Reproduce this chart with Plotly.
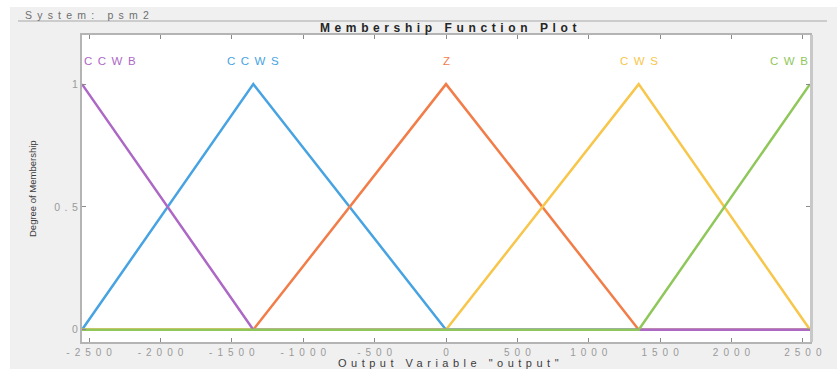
import plotly.graph_objects as go

# ---- data ----
mf_names = ["CCWB", "CCWS", "Z", "CWS", "CWB"]
ccwb_x = [-2550, -1350, 2550]
ccwb_y = [1, 0, 0]
ccws_x = [-2550, -1350, 0, 2550]
ccws_y = [0, 1, 0, 0]
z_x = [-2550, -1350, 0, 1350, 2550]
z_y = [0, 0, 1, 0, 0]
cws_x = [-2550, 0, 1350, 2550]
cws_y = [0, 0, 1, 0]
cwb_x = [-2550, 1350, 2550]
cwb_y = [0, 0, 1]
label_x = [-2550, -1350, 0, 1350, 2550]
x_tickvals = [-2500, -2000, -1500, -1000, -500, 0, 500, 1000, 1500, 2000, 2500]
y_tickvals = [0, 0.5, 1]
y_ticklabels = ["0", "0.5", "1"]

colors = {"CCWB": "#ad68c6", "CCWS": "#47a3e2", "Z": "#f27d48",
          "CWS": "#f7c64a", "CWB": "#90c75a"}

W, H = 837, 369
L, R, T, B = 82, 810, 35, 342
FONT = "Liberation Sans, Arial, sans-serif"


def sp(t, px):
    t = str(t)
    if len(t) <= 1:
        return t
    return f"<span style='letter-spacing:{px}px'>{t[:-1]}</span>{t[-1]}"


def pxx(x):
    return (x - L) / (R - L)


def pxy(y):
    return (B - y) / (B - T)


fig = go.Figure()
order = [("CCWS", ccws_x, ccws_y), ("Z", z_x, z_y), ("CWS", cws_x, cws_y),
         ("CCWB", ccwb_x, ccwb_y), ("CWB", cwb_x, cwb_y)]
for name, xs, ys in order:
    fig.add_trace(go.Scatter(x=xs, y=ys, mode="lines", name=name,
                             line=dict(color=colors[name], width=2.5),
                             showlegend=False, hoverinfo="skip"))

annotations = []
anchors = ["left", "center", "center", "center", "right"]
for name, lx, anc in zip(mf_names, label_x, anchors):
    annotations.append(dict(x=lx, y=1.093, xref="x", yref="y", text=sp(name, 5.5),
                            showarrow=False, xanchor=anc, yanchor="middle",
                            font=dict(family=FONT, size=11.5, color=colors[name])))

annotations.append(dict(x=pxx(448), y=pxy(28), xref="paper", yref="paper",
                        text="<b>" + sp("Membership Function Plot", 4.6) + "</b>",
                        showarrow=False, xanchor="center", yanchor="middle",
                        font=dict(family=FONT, size=12, color="#262626")))
annotations.append(dict(x=pxx(23), y=pxy(15), xref="paper", yref="paper",
                        text=sp("System: psm2", 5.2), showarrow=False,
                        xanchor="left", yanchor="middle",
                        font=dict(family=FONT, size=10.5, color="#6e6e6e")))
annotations.append(dict(x=pxx(448), y=pxy(363), xref="paper", yref="paper",
                        text=sp('Output Variable "output"', 4.5), showarrow=False,
                        xanchor="center", yanchor="middle",
                        font=dict(family=FONT, size=11, color="#3c3c3c")))
annotations.append(dict(x=pxx(32), y=pxy(188), xref="paper", yref="paper",
                        text="Degree of Membership", showarrow=False, textangle=-90,
                        xanchor="center", yanchor="middle",
                        font=dict(family=FONT, size=9.5, color="#3c3c3c")))

shapes = [
    # white strips outside the grey panel
    dict(type="rect", xref="paper", yref="paper", x0=pxx(0), x1=pxx(W), y0=pxy(7), y1=pxy(0),
         fillcolor="white", line=dict(width=0), layer="below"),
    dict(type="rect", xref="paper", yref="paper", x0=pxx(0), x1=pxx(10), y0=pxy(H), y1=pxy(0),
         fillcolor="white", line=dict(width=0), layer="below"),
    # separator line
    dict(type="line", xref="paper", yref="paper", x0=pxx(18), x1=pxx(827), y0=pxy(21), y1=pxy(21),
         line=dict(color="#a8a8a8", width=1)),
    # right edge shadow
    dict(type="rect", xref="paper", yref="paper", x0=pxx(810), x1=pxx(813), y0=pxy(B), y1=pxy(T),
         fillcolor="#c8c8c8", line=dict(width=0)),
]

fig.update_layout(
    width=W, height=H,
    margin=dict(l=L, r=W - R, t=T, b=H - B, pad=0),
    paper_bgcolor="#f0f0f0", plot_bgcolor="white",
    annotations=annotations, shapes=shapes,
    xaxis=dict(range=[-2550, 2550], tickvals=x_tickvals,
               ticktext=[sp(v, 5) for v in x_tickvals],
               ticks="inside", ticklen=4, tickcolor="#8a8a8a",
               showline=True, linecolor="#b4b4b4", linewidth=2, mirror="ticks",
               showgrid=False, zeroline=False,
               tickfont=dict(family=FONT, size=10, color="#9a9a9a")),
    yaxis=dict(range=[-0.05, 1.2], tickvals=y_tickvals,
               ticktext=[sp(v, 4.5) for v in y_ticklabels],
               ticks="inside", ticklen=4, tickcolor="#8a8a8a",
               showline=True, linecolor="#b4b4b4", linewidth=2, mirror="ticks",
               showgrid=False, zeroline=False,
               tickfont=dict(family=FONT, size=10.5, color="#9a9a9a")),
)

fig.write_html("out.html")
